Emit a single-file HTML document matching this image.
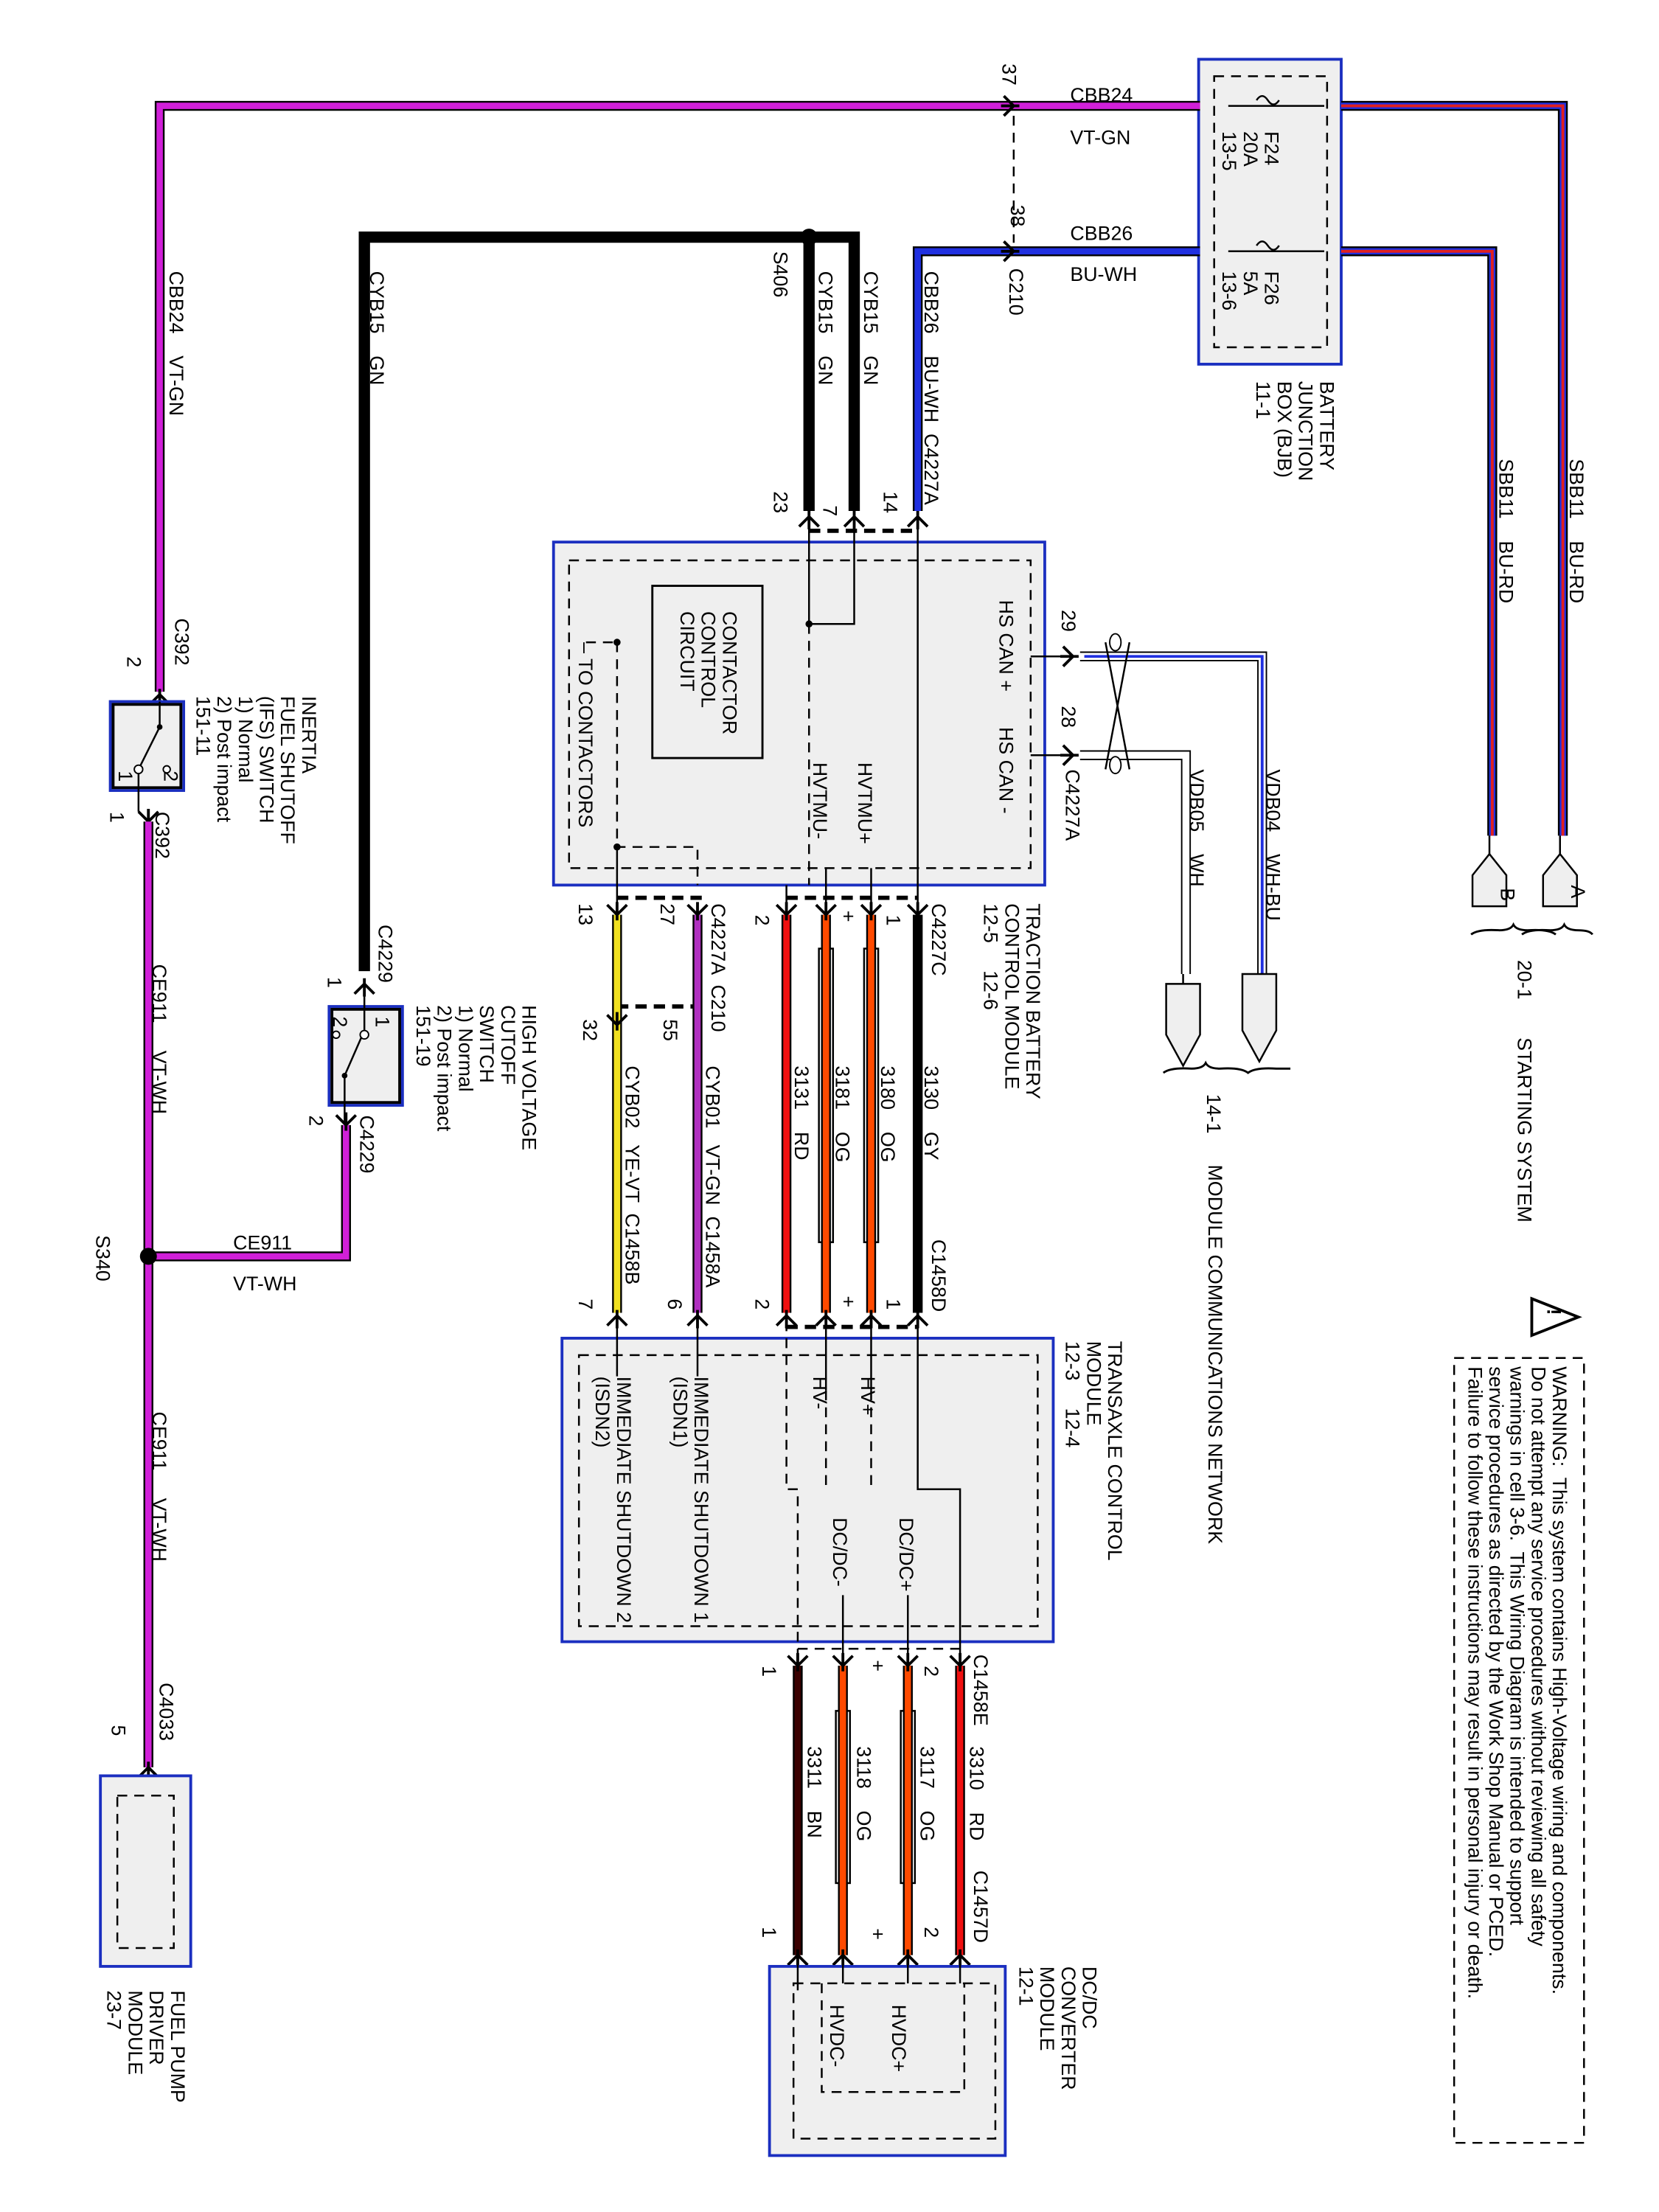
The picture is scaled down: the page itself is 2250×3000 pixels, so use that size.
<!DOCTYPE html>
<html><head><meta charset="utf-8"><style>
html,body{margin:0;padding:0;background:#fff}
svg{display:block}
text{font-family:"Liberation Sans",sans-serif;font-size:14px;fill:#000;white-space:pre}
.o{fill:none;stroke:#000;stroke-width:7}
.t{fill:none;stroke-width:4.5}
.ln{fill:none;stroke:#000;stroke-width:1.3}
.d{fill:none;stroke:#000;stroke-width:1.3;stroke-dasharray:7 5}
.dk{fill:none;stroke:#000;stroke-width:3;stroke-dasharray:8 5}
.box{fill:#efefef;stroke:#1b2fc0;stroke-width:2}
</style></head><body>
<svg width="2250" height="3000" viewBox="0 0 1175 1567" xmlns="http://www.w3.org/2000/svg" xml:space="preserve">
<defs>
<g id="dn"><path d="M-7,-7 L0,0 L7,-7 M0,-9 L0,4" fill="none" stroke="#000" stroke-width="2"/></g>
<g id="up"><path d="M-7,7 L0,0 L7,7 M0,9 L0,-4" fill="none" stroke="#000" stroke-width="2"/></g>
</defs>

<!-- BJB -->
<rect class="box" x="849" y="42" width="101" height="216"/>
<rect class="d" x="860" y="54" width="80" height="192"/>
<path class="ln" d="M870,75 L938,75 M870,178 L938,178"/>
<path d="M890,71 q4,-6 8,0 q4,6 8,0" fill="none" stroke="#000" stroke-width="1.3"/>
<path d="M890,174 q4,-6 8,0 q4,6 8,0" fill="none" stroke="#000" stroke-width="1.3"/>

<!-- VT-GN top wire -->
<path class="o" d="M113,490 L113,75 L850,75"/>
<path class="t" stroke="#d020d8" d="M113,490 L113,75 L850,75"/>
<!-- BU-WH -->
<path class="o" d="M650,362 L650,178 L850,178"/>
<path class="t" stroke="#2030e0" d="M650,362 L650,178 L850,178"/>
<!-- SBB11 right -->
<path class="o" d="M950,75 L1107,75 L1107,592"/>
<path class="t" stroke="#2030e0" d="M950,75 L1107,75 L1107,592"/>
<path fill="none" stroke="#e02020" stroke-width="2" d="M950,75 L1107,75 L1107,592"/>
<path class="o" d="M950,178 L1057,178 L1057,592"/>
<path class="t" stroke="#2030e0" d="M950,178 L1057,178 L1057,592"/>
<path fill="none" stroke="#e02020" stroke-width="2" d="M950,178 L1057,178 L1057,592"/>
<path class="ln" d="M1105,592 L1105,607 M1055,592 L1055,607"/>
<path d="M1093,620 L1105,605 L1117,620 L1117,642 L1093,642 Z" fill="#efefef" stroke="#000" stroke-width="1.3"/>
<path d="M1043,620 L1055,605 L1067,620 L1067,642 L1043,642 Z" fill="#efefef" stroke="#000" stroke-width="1.3"/>
<path d="M1042,662 q5,-4 20,-3 q8,0 10,-4 q2,4 10,4 q15,-1 20,3 M1078,662 q5,-4 20,-3 q8,0 10,-4 q2,4 10,4 q8,0 10,3" fill="none" stroke="#000" stroke-width="1.5"/>
<text transform="translate(1113,627) rotate(90)">A</text>
<text transform="translate(1063,629) rotate(90)">B</text>

<!-- dashed C210 -->
<path class="d" d="M718,82 L718,172"/>
<use href="#dn" x="718" y="75" transform="rotate(-90 718 75)"/>
<use href="#dn" x="718" y="178" transform="rotate(-90 718 178)"/>

<!-- Black GN wires -->
<path fill="none" stroke="#000" stroke-width="8" d="M258,688 L258,168 L605,168 L605,362 M573,168 L573,362"/>
<circle cx="573" cy="168" r="6" fill="#000"/>

<!-- TBCM -->
<rect class="box" x="392" y="384" width="348" height="243"/>
<rect class="d" x="403" y="397" width="327" height="218"/>
<rect x="462" y="415" width="78" height="122" fill="none" stroke="#000" stroke-width="1.5"/>
<path class="dk" d="M573,376 L650,376"/>
<path class="ln" d="M573,368 L573,442 L605,442 L605,368 M650,368 L650,627"/>
<circle cx="573" cy="442" r="2.5" fill="#000"/>
<path class="d" d="M573,442 L573,627 M437,455 L437,600 L494,600 L494,627"/>
<path class="d" d="M415,455 L437,455"/>
<circle cx="437" cy="455" r="2.5" fill="#000"/><circle cx="437" cy="600" r="2.5" fill="#000"/>
<path class="ln" d="M437,600 L437,645 M557,627 L557,645 M585,615 L585,645 M617,615 L617,645 M650,627 L650,645"/>
<use href="#up" x="573" y="366"/><use href="#up" x="605" y="366"/><use href="#up" x="650" y="366"/>

<!-- HS CAN -->
<path class="ln" d="M730,465 L760,465 M730,535 L760,535"/>
<use href="#dn" x="760" y="465" transform="rotate(-90 760 465)"/>
<use href="#dn" x="760" y="535" transform="rotate(-90 760 535)"/>
<path fill="none" stroke="#000" stroke-width="1" d="M765,462 L897,462 L897,690 M765,468 L891,468 L891,690 M765,532 L843,532 L843,690 M765,538 L837,538 L837,690"/>
<path fill="none" stroke="#2030e0" stroke-width="2" d="M768,465 L894,465 L894,690"/>
<path fill="none" stroke="#000" stroke-width="1.3" d="M783,455 L800,545 M800,455 L783,545"/>
<ellipse cx="790" cy="455" rx="4" ry="6" fill="#fff" stroke="#000"/>
<ellipse cx="790" cy="542" rx="4" ry="6" fill="#fff" stroke="#000"/>
<path d="M826,697 L850,697 L850,733 L838,755 L826,733 Z" fill="#efefef" stroke="#000" stroke-width="1.3"/>
<path d="M880,690 L904,690 L904,730 L892,752 L880,730 Z" fill="#efefef" stroke="#000" stroke-width="1.3"/>
<path class="ln" d="M838,690 L838,697"/>
<path d="M824,760 q5,-4 20,-3 q8,0 10,-4 q2,4 10,4 q15,-1 20,3 q5,-4 20,-3 q8,0 10,0" fill="none" stroke="#000" stroke-width="1.5"/>

<!-- TBCM to TCM wires -->
<path class="dk" d="M437,636 L500,636 M557,636 L650,636 M437,713 L494,713"/>
<path class="o" d="M437,648 L437,930"/><path class="t" stroke="#f0e020" d="M437,648 L437,930"/>
<path class="o" d="M494,648 L494,930"/><path class="t" stroke="#b030c0" d="M494,648 L494,930"/>
<path class="o" d="M557,648 L557,930"/><path class="t" stroke="#f01010" d="M557,648 L557,930"/>
<rect x="580" y="672" width="10" height="208" fill="#fff" stroke="#000" stroke-width="1.3"/>
<rect x="612" y="672" width="10" height="208" fill="#fff" stroke="#000" stroke-width="1.3"/>
<path class="o" d="M585,648 L585,930"/><path class="t" stroke="#ff4a00" d="M585,648 L585,930"/>
<path class="o" d="M617,648 L617,930"/><path class="t" stroke="#ff4a00" d="M617,648 L617,930"/>
<path fill="none" stroke="#000" stroke-width="7" d="M650,648 L650,930"/>
<use href="#dn" x="437" y="648"/><use href="#dn" x="494" y="648"/><use href="#dn" x="557" y="648"/><use href="#dn" x="585" y="648"/><use href="#dn" x="617" y="648"/><use href="#dn" x="650" y="648"/>
<use href="#dn" x="437" y="726"/>
<path class="dk" d="M557,940 L650,940"/>
<use href="#up" x="437" y="932"/><use href="#up" x="494" y="932"/><use href="#up" x="557" y="932"/><use href="#up" x="585" y="932"/><use href="#up" x="617" y="932"/><use href="#up" x="650" y="932"/>

<!-- TCM -->
<rect class="box" x="398" y="948" width="348" height="215"/>
<rect class="d" x="410" y="960" width="325" height="192"/>
<path class="ln" d="M437,936 L437,975 M494,936 L494,975 M585,936 L585,985 M617,936 L617,985 M650,936 L650,1055 L680,1055 L680,1175"/>
<path class="d" d="M557,936 L557,1055 L565,1055 L565,1175 M585,985 L585,1055 M617,985 L617,1055"/>
<path class="ln" d="M597,1130 L597,1175 M643,1130 L643,1175"/>
<path class="d" d="M565,1168 L680,1168"/>

<!-- TCM to DCDC -->
<path fill="none" stroke="#000" stroke-width="7" d="M565,1180 L565,1385"/><path class="t" stroke="#3a0000" d="M565,1180 L565,1385"/>
<rect x="592" y="1212" width="10" height="122" fill="#fff" stroke="#000" stroke-width="1.3"/>
<rect x="638" y="1212" width="10" height="122" fill="#fff" stroke="#000" stroke-width="1.3"/>
<path class="o" d="M597,1180 L597,1385"/><path class="t" stroke="#ff4a00" d="M597,1180 L597,1385"/>
<path class="o" d="M643,1180 L643,1385"/><path class="t" stroke="#ff4a00" d="M643,1180 L643,1385"/>
<path class="o" d="M680,1180 L680,1385"/><path class="t" stroke="#f01010" d="M680,1180 L680,1385"/>
<use href="#dn" x="565" y="1180"/><use href="#dn" x="597" y="1180"/><use href="#dn" x="643" y="1180"/><use href="#dn" x="680" y="1180"/>
<use href="#up" x="565" y="1385"/><use href="#up" x="597" y="1385"/><use href="#up" x="643" y="1385"/><use href="#up" x="680" y="1385"/>
<path class="dk" d="M565,1395 L680,1395"/>

<!-- DCDC -->
<rect class="box" x="545" y="1393" width="167" height="134"/>
<rect class="d" x="562" y="1405" width="143" height="110"/>
<path class="d" d="M582,1405 L582,1482 L683,1482 L683,1405"/>
<path class="ln" d="M565,1390 L565,1410 M597,1390 L597,1405 M643,1390 L643,1405 M680,1390 L680,1405"/>

<!-- Left side -->
<path class="ln" d="M113,490 L113,497"/>
<use href="#up" x="113" y="492"/>
<rect x="78" y="497" width="52" height="63" fill="#efefef" stroke="#1b2fc0" stroke-width="2"/>
<rect x="80" y="499" width="48" height="59" fill="none" stroke="#000" stroke-width="2"/>
<path class="ln" d="M113,497 L113,515 L98,545 M98,545 L98,575"/>
<circle cx="113" cy="515" r="2" fill="#000"/><circle cx="98" cy="545" r="3" fill="#fff" stroke="#000"/><circle cx="118" cy="545" r="2.5" fill="#fff" stroke="#000"/>
<text transform="translate(116,546) rotate(90)">2</text>
<text transform="translate(84,546) rotate(90)">1</text>
<use href="#dn" x="105" y="582"/>
<path class="o" d="M105,582 L105,1252"/><path class="t" stroke="#d020d8" d="M105,582 L105,1252"/>
<path class="o" d="M105,890 L245,890 L245,797"/><path class="t" stroke="#d020d8" d="M105,890 L245,890 L245,797"/>
<circle cx="105" cy="890" r="6" fill="#000"/>
<use href="#up" x="258" y="697"/>
<rect x="233" y="713" width="52" height="70" fill="#efefef" stroke="#1b2fc0" stroke-width="2"/>
<rect x="235" y="715" width="48" height="66" fill="none" stroke="#000" stroke-width="2"/>
<path class="ln" d="M258,697 L258,730 L244,762 L244,795"/>
<circle cx="258" cy="733" r="3" fill="#fff" stroke="#000"/><circle cx="244" cy="762" r="2" fill="#000"/><circle cx="238" cy="733" r="2.5" fill="#fff" stroke="#000"/>
<text transform="translate(266,720) rotate(90)">1</text>
<text transform="translate(236,720) rotate(90)">2</text>
<use href="#dn" x="245" y="797"/>
<use href="#up" x="105" y="1252"/>
<rect class="box" x="71" y="1258" width="64" height="135"/>
<rect class="d" x="83" y="1272" width="40" height="108"/>

<!-- Warning -->
<rect class="d" x="1030" y="962" width="92" height="556"/>
<path d="M1085,920 L1118,933 L1085,946 Z" fill="#fff" stroke="#000" stroke-width="2"/>
<text transform="translate(1096,927) rotate(90)" style="font-weight:bold">!</text>

<!-- LABELS -->
<g>
<text x="758" y="72">CBB24</text><text x="758" y="102">VT-GN</text>
<text x="758" y="170">CBB26</text><text x="758" y="199">BU-WH</text>
<text x="165" y="885">CE911</text><text x="165" y="914">VT-WH</text>
<text transform="translate(710,45) rotate(90)">37</text>
<text transform="translate(716,145) rotate(90)">38</text>
<text transform="translate(715,190) rotate(90)">C210</text>
<text transform="translate(896,93) rotate(90)">F24</text>
<text transform="translate(881,93) rotate(90)">20A</text>
<text transform="translate(866,93) rotate(90)">13-5</text>
<text transform="translate(896,192) rotate(90)">F26</text>
<text transform="translate(881,192) rotate(90)">5A</text>
<text transform="translate(866,192) rotate(90)">13-6</text>
<text transform="translate(935,270) rotate(90)">BATTERY</text>
<text transform="translate(920,270) rotate(90)">JUNCTION</text>
<text transform="translate(905,270) rotate(90)">BOX (BJB)</text>
<text transform="translate(890,270) rotate(90)">11-1</text>
<text transform="translate(1112,325) rotate(90)">SBB11    BU-RD</text>
<text transform="translate(1062,325) rotate(90)">SBB11    BU-RD</text>
<text transform="translate(1075,680) rotate(90)">20-1</text>
<text transform="translate(1075,735) rotate(90)">STARTING SYSTEM</text>
<text transform="translate(120,192) rotate(90)">CBB24    VT-GN</text>
<text transform="translate(124,438) rotate(90)">C392</text>
<text transform="translate(90,465) rotate(90)">2</text>
<text transform="translate(110,575) rotate(90)">C392</text>
<text transform="translate(78,575) rotate(90)">1</text>
<text transform="translate(214,493) rotate(90)">INERTIA</text>
<text transform="translate(199,493) rotate(90)">FUEL SHUTOFF</text>
<text transform="translate(184,493) rotate(90)">(IFS) SWITCH</text>
<text transform="translate(169,493) rotate(90)">1) Normal</text>
<text transform="translate(154,493) rotate(90)">2) Post impact</text>
<text transform="translate(139,493) rotate(90)">151-11</text>
<text transform="translate(108,683) rotate(90)">CE911     VT-WH</text>
<text transform="translate(68,875) rotate(90)">S340</text>
<text transform="translate(108,1000) rotate(90)">CE911     VT-WH</text>
<text transform="translate(113,1192) rotate(90)">C4033</text>
<text transform="translate(79,1222) rotate(90)">5</text>
<text transform="translate(121,1410) rotate(90)">FUEL PUMP</text>
<text transform="translate(106,1410) rotate(90)">DRIVER</text>
<text transform="translate(91,1410) rotate(90)">MODULE</text>
<text transform="translate(76,1410) rotate(90)">23-7</text>
<text transform="translate(262,192) rotate(90)">CYB15    GN</text>
<text transform="translate(268,655) rotate(90)">C4229</text>
<text transform="translate(232,692) rotate(90)">1</text>
<text transform="translate(219,790) rotate(90)">2</text>
<text transform="translate(255,790) rotate(90)">C4229</text>
<text transform="translate(370,712) rotate(90)">HIGH VOLTAGE</text>
<text transform="translate(355,712) rotate(90)">CUTOFF</text>
<text transform="translate(340,712) rotate(90)">SWITCH</text>
<text transform="translate(325,712) rotate(90)">1) Normal</text>
<text transform="translate(310,712) rotate(90)">2) Post impact</text>
<text transform="translate(295,712) rotate(90)">151-19</text>
<text transform="translate(548,178) rotate(90)">S406</text>
<text transform="translate(580,192) rotate(90)">CYB15    GN</text>
<text transform="translate(612,192) rotate(90)">CYB15    GN</text>
<text transform="translate(655,192) rotate(90)">CBB26    BU-WH  C4227A</text>
<text transform="translate(548,348) rotate(90)">23</text>
<text transform="translate(583,358) rotate(90)">7</text>
<text transform="translate(626,348) rotate(90)">14</text>
<text transform="translate(708,425) rotate(90)">HS CAN +</text>
<text transform="translate(708,515) rotate(90)">HS CAN -</text>
<text transform="translate(608,540) rotate(90)">HVTMU+</text>
<text transform="translate(576,540) rotate(90)">HVTMU-</text>
<text transform="translate(512,433) rotate(90)">CONTACTOR</text>
<text transform="translate(497,433) rotate(90)">CONTROL</text>
<text transform="translate(482,433) rotate(90)">CIRCUIT</text>
<text transform="translate(410,455) rotate(90)">– TO CONTACTORS</text>
<text transform="translate(752,432) rotate(90)">29</text>
<text transform="translate(752,500) rotate(90)">28</text>
<text transform="translate(755,545) rotate(90)">C4227A</text>
<text transform="translate(897,545) rotate(90)">VDB04    WH-BU</text>
<text transform="translate(843,545) rotate(90)">VDB05    WH</text>
<text transform="translate(855,775) rotate(90)">14-1</text>
<text transform="translate(856,825) rotate(90)">MODULE COMMUNICATIONS NETWORK</text>
<text transform="translate(727,640) rotate(90)">TRACTION BATTERY</text>
<text transform="translate(712,640) rotate(90)">CONTROL MODULE</text>
<text transform="translate(697,640) rotate(90)">12-5     12-6</text>
<text transform="translate(660,640) rotate(90)">C4227C</text>
<text transform="translate(535,648) rotate(90)">2</text>
<text transform="translate(628,648) rotate(90)">1</text>
<text transform="translate(596,645) rotate(90)">+</text>
<text transform="translate(410,640) rotate(90)">13</text>
<text transform="translate(468,640) rotate(90)">27</text>
<text transform="translate(504,640) rotate(90)">C4227A  C210</text>
<text transform="translate(413,722) rotate(90)">32</text>
<text transform="translate(470,722) rotate(90)">55</text>
<text transform="translate(655,755) rotate(90)">3130    GY</text>
<text transform="translate(624,755) rotate(90)">3180    OG</text>
<text transform="translate(592,755) rotate(90)">3181    OG</text>
<text transform="translate(563,755) rotate(90)">3131    RD</text>
<text transform="translate(500,755) rotate(90)">CYB01   VT-GN  C1458A</text>
<text transform="translate(443,755) rotate(90)">CYB02   YE-VT  C1458B</text>
<text transform="translate(660,878) rotate(90)">C1458D</text>
<text transform="translate(410,920) rotate(90)">7</text>
<text transform="translate(473,920) rotate(90)">6</text>
<text transform="translate(535,920) rotate(90)">2</text>
<text transform="translate(628,920) rotate(90)">1</text>
<text transform="translate(596,918) rotate(90)">+</text>
<text transform="translate(785,950) rotate(90)">TRANSAXLE CONTROL</text>
<text transform="translate(770,950) rotate(90)">MODULE</text>
<text transform="translate(755,950) rotate(90)">12-3     12-4</text>
<text transform="translate(610,975) rotate(90)">HV+</text>
<text transform="translate(576,975) rotate(90)">HV-</text>
<text transform="translate(637,1075) rotate(90)">DC/DC+</text>
<text transform="translate(590,1075) rotate(90)">DC/DC-</text>
<text transform="translate(492,975) rotate(90)">IMMEDIATE SHUTDOWN 1</text>
<text transform="translate(477,975) rotate(90)">(ISDN1)</text>
<text transform="translate(437,975) rotate(90)">IMMEDIATE SHUTDOWN 2</text>
<text transform="translate(422,975) rotate(90)">(ISDN2)</text>
<text transform="translate(690,1172) rotate(90)">C1458E</text>
<text transform="translate(655,1180) rotate(90)">2</text>
<text transform="translate(540,1180) rotate(90)">1</text>
<text transform="translate(617,1176) rotate(90)">+</text>
<text transform="translate(687,1237) rotate(90)">3310    RD</text>
<text transform="translate(652,1237) rotate(90)">3117    OG</text>
<text transform="translate(607,1237) rotate(90)">3118    OG</text>
<text transform="translate(572,1237) rotate(90)">3311    BN</text>
<text transform="translate(690,1325) rotate(90)">C1457D</text>
<text transform="translate(655,1365) rotate(90)">2</text>
<text transform="translate(540,1365) rotate(90)">1</text>
<text transform="translate(617,1366) rotate(90)">+</text>
<text transform="translate(767,1393) rotate(90)">DC/DC</text>
<text transform="translate(752,1393) rotate(90)">CONVERTER</text>
<text transform="translate(737,1393) rotate(90)">MODULE</text>
<text transform="translate(722,1393) rotate(90)">12-1</text>
<text transform="translate(632,1420) rotate(90)">HVDC+</text>
<text transform="translate(588,1420) rotate(90)">HVDC-</text>
<g style="font-size:13px">
<text transform="translate(1100,968) rotate(90)">WARNING:  This system contains High-Voltage wiring and components.</text>
<text transform="translate(1085,968) rotate(90)">Do not attempt any service procedures without reviewing all safety</text>
<text transform="translate(1070,968) rotate(90)">warnings in cell 3-6.  This Wiring Diagram is intended to support</text>
<text transform="translate(1055,968) rotate(90)">service procedures as directed by the Work Shop Manual or PCED.</text>
<text transform="translate(1040,968) rotate(90)">Failure to follow these instructions may result in personal injury or death.</text>
</g>
</g>
</svg>
</body></html>
